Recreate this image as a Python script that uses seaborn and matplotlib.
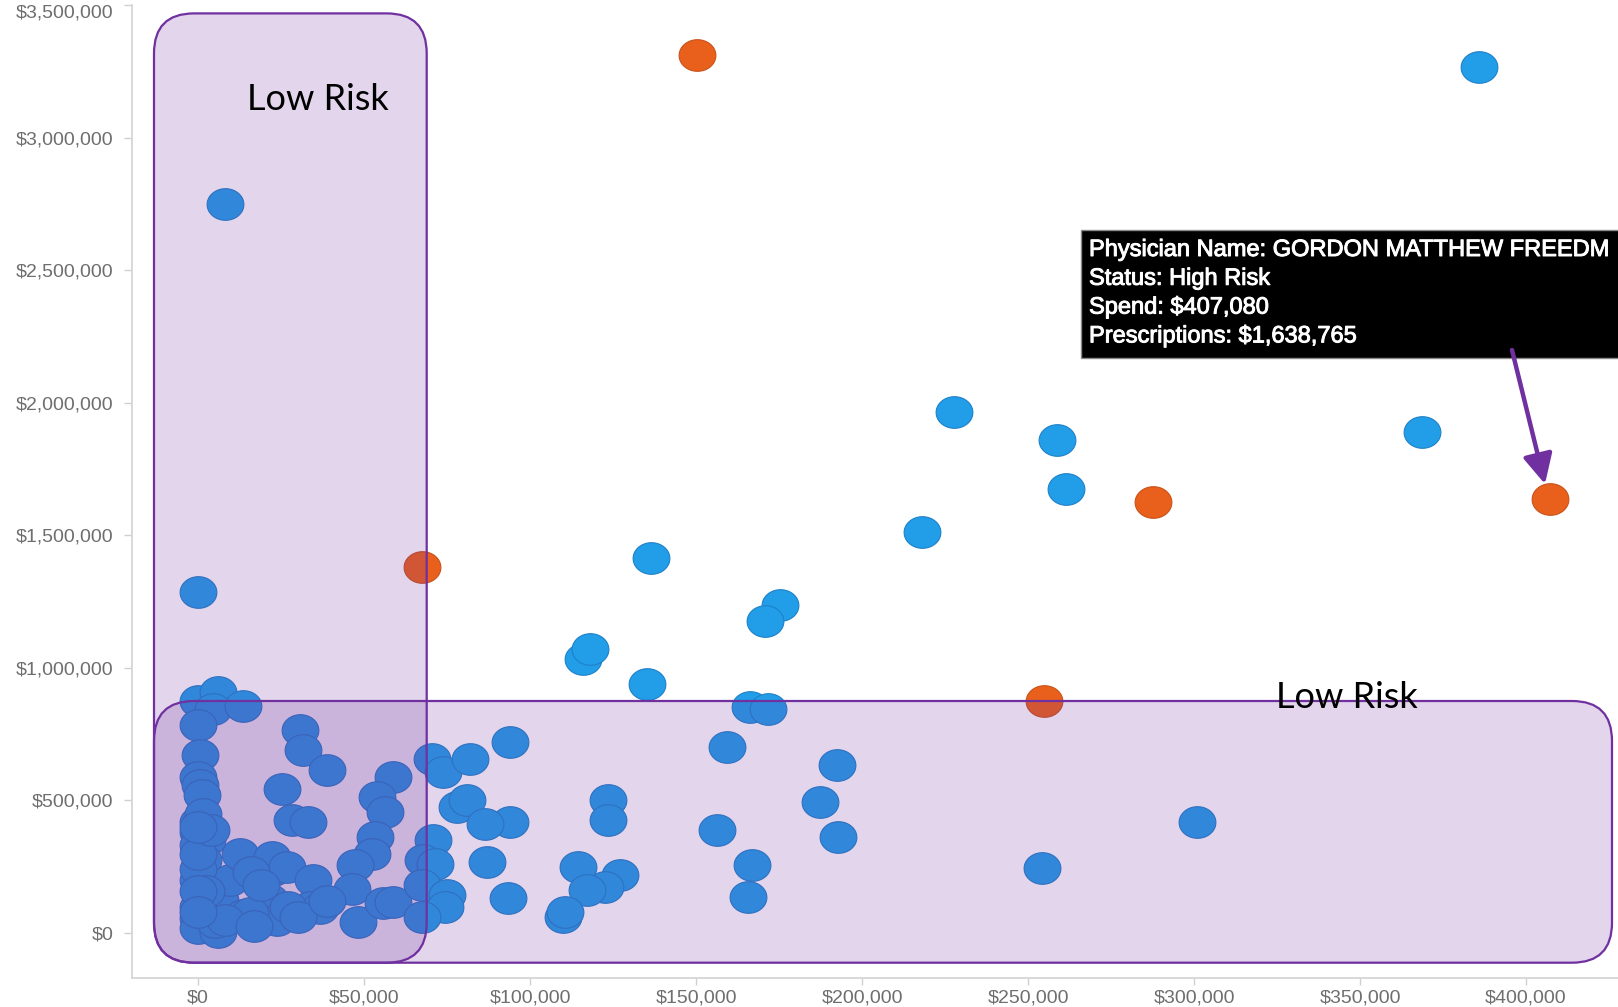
import numpy as np
import pandas as pd
import matplotlib
matplotlib.use("Agg")
import matplotlib.pyplot as plt
import matplotlib.patheffects as pe
import seaborn as sns
from matplotlib.path import Path
from matplotlib.patches import FancyBboxPatch, Rectangle

# ---------------- data ----------------
# Low-risk (blue) physicians: spend ($) and prescriptions ($)
low_spend = [
    385700, 8100, 227600, 258600, 368700, 261400, 218200, 136500, 0, 175300,
    170700, 116000, 118000, 135100, 166300, 171800,
    0, 6100, 4600, 13600, 0, 600, 0, 600, 1100, 0, 0, 0, 2600, 1600, 0, 1100,
    0, 0, 6100, 6600, 9600, 12700, 13600, 5000,
    22700, 22200, 26700, 21700, 23700, 15700, 30700, 31700, 25200, 28200,
    33200, 34700, 33700, 36700, 38800,
    58800, 53800, 56300, 53300, 52300, 47300, 46300, 48300, 55800, 58800,
    70900, 67900, 71400, 67400, 74900, 74400, 67400, 70400, 73900, 81900,
    77900, 80900,
    0, 0, 0, 2500, 8000, 17000, 27000, 30000, 39000, 1500, 4000, 16000, 19000,
    0, 0, 0,
    94000, 159200, 192400, 187300, 192900, 123600, 123600, 156200, 166800,
    165800, 114500, 127100, 122600, 117100, 110000, 110500, 93500, 94000,
    86400, 87000, 300900, 254300,
]
low_rx = [
    3268000, 2751000, 1966000, 1858000, 1889000, 1675000, 1512000, 1415000,
    1286000, 1236000, 1178000, 1034000, 1072000, 940000, 852000, 846000,
    877000, 908000, 846000, 858000, 783000, 670000, 588000, 557000, 520000,
    419000, 381000, 331000, 350000, 275000, 200000, 137000, 55000, 18000,
    5000, 124000, 200000, 300000, 68000, 40000,
    237000, 287000, 250000, 124000, 49000, 75000, 764000, 689000, 545000,
    425000, 419000, 200000, 99000, 93000, 614000,
    588000, 513000, 457000, 363000, 300000, 256000, 168000, 43000, 112000,
    118000,
    350000, 275000, 262000, 181000, 143000, 99000, 61000, 658000, 607000,
    658000, 476000, 501000,
    100000, 240000, 300000, 160000, 50000, 25000, 100000, 60000, 120000,
    450000, 390000, 230000, 180000,
    400000, 160000, 80000,
    720000, 701000, 632000, 494000, 363000, 501000, 425000, 388000, 256000,
    137000, 250000, 218000, 174000, 162000, 61000, 80000, 131000, 419000,
    413000, 268000, 420000, 245000,
]
# High-risk (orange) physicians
high_spend = [150200, 67500, 287500, 407080, 254900]
high_rx = [3311000, 1380000, 1625000, 1638765, 875000]

x_ticks = [0, 50000, 100000, 150000, 200000, 250000, 300000, 350000, 400000]
y_ticks = [0, 500000, 1000000, 1500000, 2000000, 2500000, 3000000, 3500000]

zone_label = "Low Risk"
tooltip_lines = [
    "Physician Name: GORDON MATTHEW FREEDM",
    "Status: High Risk",
    "Spend: $407,080",
    "Prescriptions: $1,638,765",
]

df = pd.concat([
    pd.DataFrame({"Spend": low_spend, "Prescriptions": low_rx, "Status": "Low Risk"}),
    pd.DataFrame({"Spend": high_spend, "Prescriptions": high_rx, "Status": "High Risk"}),
], ignore_index=True)

# ---------------- style ----------------
sns.set_theme(style="white")
plt.rcParams["font.family"] = ["Liberation Sans", "DejaVu Sans"]

W, H = 1618, 1007
fig = plt.figure(figsize=(W / 100, H / 100), dpi=100)
fig.patch.set_facecolor("white")

ax_left, ax_right, ax_top, ax_bottom = 131.7, 1618, 5, 978
ax = fig.add_axes([ax_left / W, 1 - ax_bottom / H,
                   (ax_right - ax_left) / W, (ax_bottom - ax_top) / H])

# elliptical marker (slightly wider than tall)
t = np.linspace(0, 2 * np.pi, 73)
ellipse = Path(np.column_stack([np.cos(t), 0.86 * np.sin(t)]), closed=True)

low = df[df["Status"] == "Low Risk"]
high = df[df["Status"] == "High Risk"]
sns.scatterplot(data=low, x="Spend", y="Prescriptions", ax=ax, marker=ellipse,
                s=700, color="#229ee9", edgecolor="#1f80c8", linewidth=0.8,
                legend=False, zorder=2)
sns.scatterplot(data=high, x="Spend", y="Prescriptions", ax=ax, marker=ellipse,
                s=700, color="#e8601c", edgecolor="#c9521a", linewidth=0.8,
                legend=False, zorder=2)

x0_px, px_per_50k = 198.0, 166.0
y0_px, px_per_500k = 933.0, 132.8
ax.set_xlim((ax_left - x0_px) / px_per_50k * 50000,
            (ax_right - x0_px) / px_per_50k * 50000)
ax.set_ylim((y0_px - ax_bottom) / px_per_500k * 500000,
            (y0_px - ax_top) / px_per_500k * 500000)

ax.set_xticks(x_ticks)
ax.set_yticks(y_ticks)
ax.set_xticklabels([f"${v:,.0f}" for v in x_ticks])
ax.set_yticklabels([f"${v:,.0f}" for v in y_ticks])
ax.set_xlabel("")
ax.set_ylabel("")
for s in ["top", "right"]:
    ax.spines[s].set_visible(False)
for s in ["left", "bottom"]:
    ax.spines[s].set_color("#d6d6d6")
    ax.spines[s].set_linewidth(1.3)
ax.tick_params(axis="y", length=6, width=1, color="#d0d0d0", pad=7,
               labelsize=14, labelcolor="#6e6e6e", left=True)
ax.tick_params(axis="x", length=5, width=1, color="#d0d0d0", pad=3,
               labelsize=14, labelcolor="#6e6e6e", bottom=True)
ax.get_yticklabels()[-1].set_verticalalignment("top")
ax.grid(False)

# ---------------- overlay (pixel coordinates) ----------------
ov = fig.add_axes([0, 0, 1, 1], zorder=3)
ov.set_xlim(0, W)
ov.set_ylim(H, 0)
ov.axis("off")
ov.patch.set_alpha(0)

purple = "#7030a0"
fill = (0x70 / 255, 0x30 / 255, 0xa0 / 255, 0.2)
for (x, y, w, h) in [(154, 13.4, 272.7, 949.3), (154, 701, 1458, 261.7)]:
    ov.add_patch(FancyBboxPatch((x, y), w, h,
                                boxstyle="round,pad=0,rounding_size=40",
                                facecolor=fill, edgecolor=purple, linewidth=1.6))

ov.text(318, 100, zone_label, fontsize=26, family=["Lato", "DejaVu Sans"],
        ha="center", va="center", color="black")
ov.text(1347, 697, zone_label, fontsize=26, family=["Lato", "DejaVu Sans"],
        ha="center", va="center", color="black")

# tooltip
ov.add_patch(Rectangle((1081, 230), 560, 128, facecolor="black",
                       edgecolor="#8a8a8a", linewidth=1))
for i, line in enumerate(tooltip_lines):
    ov.text(1089, 250 + i * 28.8, line, color="white", fontsize=17,
            ha="left", va="center", family=["Liberation Sans", "DejaVu Sans"],
            path_effects=[pe.withStroke(linewidth=0.7, foreground="white")])

ov.annotate("", xy=(1545, 484), xytext=(1512, 350),
            arrowprops=dict(arrowstyle="-|>,head_length=0.9,head_width=0.45",
                            mutation_scale=20, color=purple, lw=3.2,
                            shrinkA=0, shrinkB=0))

fig.savefig("out.png", dpi=100)
